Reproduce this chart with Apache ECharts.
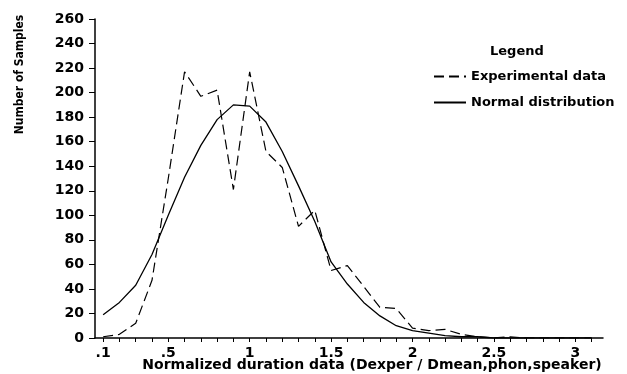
<!DOCTYPE html>
<html>
<head>
<meta charset="utf-8">
<script src="https://cdn.jsdelivr.net/npm/echarts@6/dist/echarts.min.js"></script>
<style>html,body{margin:0;padding:0;background:#fff}#c{width:627px;height:374px}</style>
</head>
<body>
<div id="c"></div>
<script>
var durations = [0.1,0.2,0.3,0.4,0.5,0.6,0.7,0.8,0.9,1.0,1.1,1.2,1.3,1.4,1.5,1.6,1.7,1.8,1.9,2.0,2.1,2.2,2.3,2.4,2.5,2.6,2.7,2.8,2.9,3.0,3.1];
var experimental = [1,3,12,47,130,217,197,202,121,217,152,139,91,104,55,59,42,25,24,8,6,7,3,1,0,1,0,0,0,0,0];
var normalDist = [19,29,43,68,100,131,157,178,190,189,176,152,124,95,62,44,29,18,10,6,4,2,1,1,0,0,0,0,0,0,0];
var xTicks = [0.1,0.2,0.3,0.4,0.5,0.6,0.7,0.8,0.9,1.0,1.1,1.2,1.3,1.4,1.5,1.6,1.7,1.8,1.9,2.0,2.1,2.2,2.3,2.4,2.5,2.6,2.7,2.8,2.9,3.0,3.1];
var xLabels = [0.1,0.5,1,1.5,2,2.5,3];
var seriesNames = ['Experimental data','Normal distribution'];

function pairs(vals){ return durations.map(function(d,i){ return [d, vals[i]]; }); }

var font = 'DejaVu Sans';
var chart = echarts.init(document.getElementById('c'), null, {renderer:'canvas'});
chart.setOption({
  animation:false,
  backgroundColor:'#fff',
  title:{text:'Legend', left:485, top:40, textStyle:{fontFamily:font, fontWeight:'bold', fontSize:13, color:'#000'}},
  legend:{
    orient:'vertical', left:428, top:65, itemWidth:32, itemHeight:10, itemGap:13,
    itemStyle:{opacity:0},
    data:seriesNames,
    textStyle:{fontFamily:font, fontWeight:'bold', fontSize:13, color:'#000'}
  },
  grid:{left:95, right:24, top:19, bottom:36, containLabel:false, outerBoundsMode:'none'},
  xAxis:{
    type:'value', min:0.05, max:3.17,
    name:'Normalized duration data (Dexper / Dmean,phon,speaker)',
    nameLocation:'middle', nameGap:20, nameMoveOverlap:false,
    nameTextStyle:{fontFamily:font, fontWeight:'bold', fontSize:14, color:'#000', padding:[0,0,0,46]},
    axisLine:{lineStyle:{color:'#000', width:1.5}},
    axisTick:{show:true, length:4, customValues:xTicks, lineStyle:{color:'#000', width:1}},
    axisLabel:{customValues:xLabels, margin:8, fontFamily:font, fontWeight:'bold', fontSize:14, color:'#000',
      formatter:function(v){ return v < 1 ? String(v).replace(/^0/, '') : String(v); }},
    splitLine:{show:false}
  },
  yAxis:{
    type:'value', min:0, max:260, interval:20,
    name:'Number of Samples', nameLocation:'middle', nameRotate:90, nameGap:75, nameMoveOverlap:false,
    nameTextStyle:{fontFamily:'DejaVu Sans Condensed, Liberation Sans, sans-serif', fontWeight:'bold', fontSize:12, color:'#000', align:'center', verticalAlign:'middle', padding:[0,0,0,208]},
    axisLine:{show:true, lineStyle:{color:'#000', width:1.5}},
    axisTick:{show:true, length:6, lineStyle:{color:'#000', width:1}},
    axisLabel:{margin:11, fontFamily:font, fontWeight:'bold', fontSize:14, color:'#000'},
    splitLine:{show:false}
  },
  series:[
    {name:seriesNames[0], type:'line', data:pairs(experimental), symbol:'none',
     lineStyle:{color:'#000', width:1.2, type:[10,5]}, itemStyle:{color:'#000'}},
    {name:seriesNames[1], type:'line', data:pairs(normalDist), symbol:'none',
     lineStyle:{color:'#000', width:1.3, type:'solid'}, itemStyle:{color:'#000'}}
  ]
});
</script>
</body>
</html>
